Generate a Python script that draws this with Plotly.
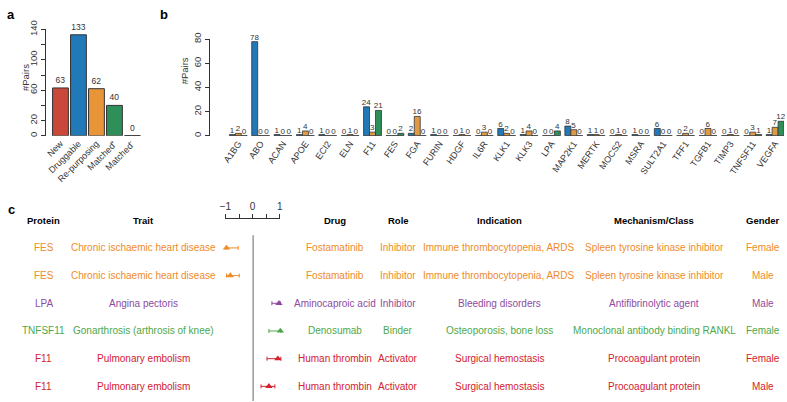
import plotly.graph_objects as go

W, H = 787, 402
FONT = "Liberation Sans, Arial, Helvetica, sans-serif"

# ---------------- data ----------------
a_categories = ["New", "Druggable", "Re-purposing", "Matched⁺", "Matched⁻"]
a_values = [63, 133, 62, 40, 0]
a_ticks = [0, 20, 40, 60, 80, 100, 120, 140]
a_ticklabels = ["0", "20", "", "60", "", "100", "", "140"]

b_genes = ["A1BG", "ABO", "ACAN", "APOE", "ECI2", "ELN", "F11", "FES", "FGA", "FURIN",
           "HDGF", "IL6R", "KLK1", "KLK3", "LPA", "MAP2K1", "MERTK", "MOCS2", "MSRA",
           "SULT2A1", "TFF1", "TGFB1", "TIMP3", "TNFSF11", "VEGFA"]
b_blue = [1, 78, 1, 1, 1, 0, 24, 0, 2, 1, 0, 0, 6, 1, 0, 8, 1, 0, 1, 6, 0, 0, 0, 0, 1]
b_orange = [2, 0, 0, 4, 0, 1, 3, 0, 16, 0, 1, 3, 2, 4, 0, 5, 1, 1, 0, 0, 2, 6, 1, 3, 7]
b_green = [0, 0, 0, 0, 0, 0, 21, 2, 0, 0, 0, 0, 0, 0, 4, 0, 0, 0, 0, 0, 0, 0, 0, 1, 12]
b_ticks = [0, 20, 40, 60, 80]

c_protein = ["FES", "FES", "LPA", "TNFSF11", "F11", "F11"]
c_trait = ["Chronic ischaemic heart disease", "Chronic ischaemic heart disease",
           "Angina pectoris", "Gonarthrosis (arthrosis of knee)",
           "Pulmonary embolism", "Pulmonary embolism"]
c_drug = ["Fostamatinib", "Fostamatinib", "Aminocaproic acid", "Denosumab",
          "Human thrombin", "Human thrombin"]
c_role = ["Inhibitor", "Inhibitor", "Inhibitor", "Binder", "Activator", "Activator"]
c_indication = ["Immune thrombocytopenia, ARDS", "Immune thrombocytopenia, ARDS",
                "Bleeding disorders", "Osteoporosis, bone loss",
                "Surgical hemostasis", "Surgical hemostasis"]
c_mechanism = ["Spleen tyrosine kinase inhibitor", "Spleen tyrosine kinase inhibitor",
               "Antifibrinolytic agent", "Monoclonal antibody binding RANKL",
               "Procoagulant protein", "Procoagulant protein"]
c_gender = ["Female", "Male", "Male", "Female", "Female", "Male"]
c_est = [-0.98, -0.84, 0.95, 1.0, 0.91, 0.58]
c_lo = [-1.0, -0.98, 0.69, 0.58, 0.51, 0.29]
c_hi = [-0.55, -0.51, 1.0, 1.02, 1.02, 0.80]

c_headers = ["Protein", "Trait", "Drug", "Role", "Indication", "Mechanism/Class", "Gender"]
scale_vals = [-1, -0.5, 0, 0.5, 1]
scale_text = ["−1", "", "0", "", "1"]

# ---------------- styles ----------------
A_COLORS = ["#C9483A", "#2179B8", "#E8953A", "#2E8F58", "#2E8F58"]
B_COLORS = {"blue": "#2179B8", "orange": "#E09A45", "green": "#2E8F58"}
ROW_COLORS = ["#EE8B2B", "#EE8B2B", "#8E4B9E", "#4EA84A", "#D3222E", "#D3222E"]
EDGE = "#333333"
col_x = [38, 139, 333, 397, 499, 656, 766]


def px(p):
    return p / W


def py(p):
    return 1 - p / H


fig = go.Figure()

# ---- panel a ----
fig.add_trace(go.Bar(
    x=list(range(len(a_categories))), y=a_values, width=0.88,
    marker=dict(color=A_COLORS, line=dict(color=EDGE, width=1)),
    text=[str(v) for v in a_values], textposition="outside", constraintext="none",
    textfont=dict(size=8.5, color="#333"), cliponaxis=False,
    xaxis="x", yaxis="y", showlegend=False))

# ---- panel b ----
for name, vals in [("blue", b_blue), ("orange", b_orange), ("green", b_green)]:
    fig.add_trace(go.Bar(
        x=list(range(len(b_genes))), y=vals, offsetgroup=name,
        marker=dict(color=B_COLORS[name], line=dict(color=EDGE, width=0.8)),
        text=[str(v) for v in vals], textposition="outside", constraintext="none",
        textfont=dict(size=8, color="#333"), cliponaxis=False,
        xaxis="x2", yaxis="y2", showlegend=False))

# group baselines in panel b (zero-height bars show as a line)
bx, by = [], []
for i in range(len(b_genes)):
    bx += [i - 0.4, i + 0.4, None]
    by += [0, 0, None]
fig.add_trace(go.Scatter(x=bx, y=by, mode="lines", line=dict(color=EDGE, width=1),
                         xaxis="x2", yaxis="y2", showlegend=False, hoverinfo="skip"))
# baseline under Matched- in panel a
fig.add_trace(go.Scatter(x=[4 - 0.44, 4 + 0.44], y=[a_values[4], a_values[4]], mode="lines",
                         line=dict(color=EDGE, width=1), xaxis="x", yaxis="y",
                         showlegend=False, hoverinfo="skip"))

# ---- panel c forest ----
for i in range(len(c_est)):
    fig.add_trace(go.Scatter(
        x=[c_est[i]], y=[i], mode="markers",
        marker=dict(symbol="triangle-up", size=6.5, color=ROW_COLORS[i]),
        error_x=dict(type="data", symmetric=False, array=[c_hi[i] - c_est[i]],
                     arrayminus=[c_est[i] - c_lo[i]], color=ROW_COLORS[i],
                     thickness=1, width=2),
        cliponaxis=False, xaxis="x3", yaxis="y3", showlegend=False))

# dummy trace for scale axis
fig.add_trace(go.Scatter(x=[None], y=[None], xaxis="x4", yaxis="y4", showlegend=False))

annotations = []
# panel letters
for txt, x, y in [("a", 5, 6), ("b", 160, 6), ("c", 6, 206)]:
    annotations.append(dict(text=f"<b>{txt}</b>", x=px(x), y=py(y), xref="paper", yref="paper",
                            xanchor="center", yanchor="middle",
                            showarrow=False, font=dict(size=13, color="black", family=FONT)))
# axis titles
annotations.append(dict(text="#Pairs", x=px(19), y=py(70), xref="paper", yref="paper",
                        xanchor="center", yanchor="middle",
                        textangle=-90, showarrow=False, font=dict(size=9.5, color="#333")))
annotations.append(dict(text="#Pairs", x=px(181), y=py(63), xref="paper", yref="paper",
                        xanchor="center", yanchor="middle",
                        textangle=-90, showarrow=False, font=dict(size=9.5, color="#333")))
# headers
for h, x in zip(c_headers, col_x):
    annotations.append(dict(text=f"<b>{h}</b>", x=px(x), y=py(217), xref="paper", yref="paper",
                            xanchor="center", yanchor="middle",
                            showarrow=False, font=dict(size=9.5, color="black")))
# table rows
cols = [c_protein, c_trait, c_drug, c_role, c_indication, c_mechanism, c_gender]
for r in range(len(c_protein)):
    for col, x in zip(cols, col_x):
        annotations.append(dict(text=col[r], x=px(x), y=r, xref="paper", yref="y3",
                                xanchor="center", yanchor="middle",
                                showarrow=False, font=dict(size=10, color=ROW_COLORS[r])))

shapes = [dict(type="line", xref="x3", yref="paper", x0=0, x1=0, y0=0, y1=py(232),
               line=dict(color="#9A9A9A", width=1.5))]

xaxis_common = dict(tickfont=dict(size=9, color="#333"), showgrid=False, zeroline=False)
yaxis_common = dict(tickfont=dict(size=9.5, color="#333"), showgrid=False, zeroline=False)

b_step = 22.625
b_left = 235 - b_step / 2

fig.update_layout(
    width=W, height=H, margin=dict(l=0, r=0, t=0, b=0),
    paper_bgcolor="white", plot_bgcolor="rgba(0,0,0,0)",
    font=dict(family=FONT, color="#333"),
    barmode="group", bargap=0.2, bargroupgap=0,
    xaxis=dict(domain=[px(46), px(137)], range=[-0.5, 4.5], anchor="y",
               tickvals=list(range(len(a_categories))), ticktext=a_categories,
               tickangle=-45, ticks="", showline=False, **xaxis_common),
    yaxis=dict(domain=[py(130), py(21)], range=[0, 140], anchor="free", position=px(39),
               tickvals=a_ticks, ticktext=a_ticklabels, tickangle=-90, ticks="outside",
               ticklen=4, tickcolor="#333", showline=True, linecolor="#333", linewidth=1,
               **yaxis_common),
    xaxis2=dict(domain=[px(b_left), 1.0], range=[-0.5, -0.5 + (W - b_left) / b_step],
                anchor="y2", tickvals=list(range(len(b_genes))), ticktext=b_genes,
                tickangle=-55, ticks="", showline=False, **xaxis_common),
    yaxis2=dict(domain=[py(130), py(31)], range=[0, 80], anchor="free", position=px(205),
                tickvals=b_ticks, tickangle=-90, ticks="outside", ticklen=4,
                tickcolor="#333", showline=True, linecolor="#333", linewidth=1, **yaxis_common),
    xaxis3=dict(domain=[px(250 - 1.3 * 27.5), px(250 + 1.3 * 27.5)], range=[-1.3, 1.3],
                anchor="y3", visible=False),
    yaxis3=dict(domain=[py(401.2), py(230.8)], range=[5.5, -0.5], anchor="x3", visible=False),
    xaxis4=dict(domain=[px(222), px(277)], range=[-1, 1], anchor="y4", side="top",
                tickvals=scale_vals, ticktext=scale_text, ticks="outside", ticklen=4,
                tickcolor="#333", showline=True, linecolor="#333", linewidth=1,
                tickfont=dict(size=10, color="#333"), showgrid=False, zeroline=False),
    yaxis4=dict(domain=[py(222), py(215)], range=[0, 1], anchor="x4", visible=False),
    annotations=annotations, shapes=shapes,
)

fig.write_html("out.html")
